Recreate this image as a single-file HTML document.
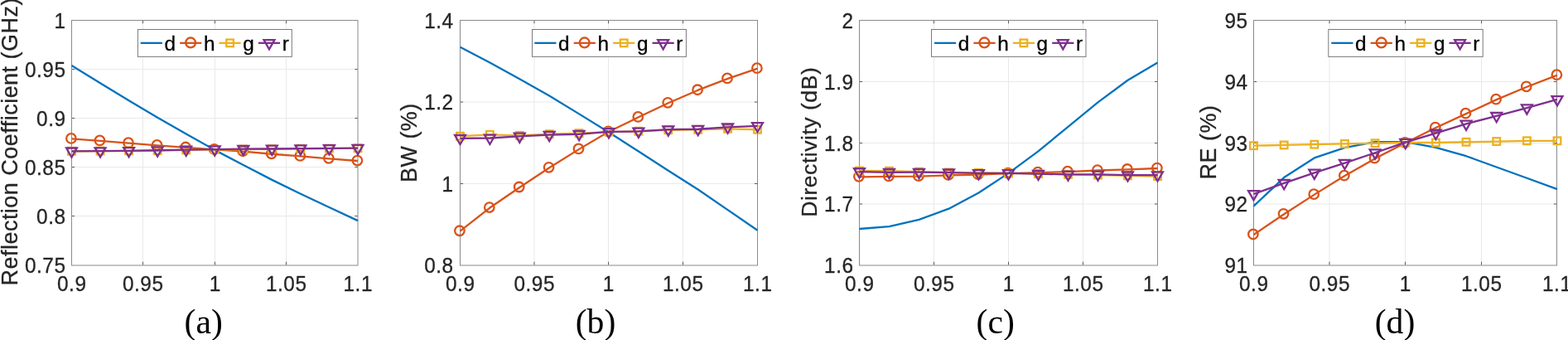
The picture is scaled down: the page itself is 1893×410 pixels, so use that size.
<!DOCTYPE html>
<html lang="en">
<head>
<meta charset="utf-8">
<title>Parametric study plots</title>
<style>
html,body{margin:0;padding:0;background:#fff;}
body{width:1893px;height:410px;overflow:hidden;}
svg{display:block;font-family:"Liberation Sans",sans-serif;}
</style>
</head>
<body>
<svg width="1893" height="410" viewBox="0 0 1893 410">
<rect width="1893" height="410" fill="#fff"/>
<g>
<path d="M172.5 24.5V320M259.5 24.5V320M345.5 24.5V320M86.5 83.5H432M86.5 142.5H432M86.5 201.5H432M86.5 260.5H432" stroke="#e9e9e9" stroke-width="1" fill="none"/>
<path d="M172.5 319.5V315.7M172.5 24.5V28.3M259.5 319.5V315.7M259.5 24.5V28.3M345.5 319.5V315.7M345.5 24.5V28.3M86.5 83.5h3.6M432 83.5h-3.6M86.5 142.5h3.6M432 142.5h-3.6M86.5 201.5h3.6M432 201.5h-3.6M86.5 260.5h3.6M432 260.5h-3.6" stroke="#5a5a5a" stroke-width="1" fill="none"/>
<rect x="86.5" y="24.5" width="345.5" height="295.5" fill="none" stroke="#8a8a8a" stroke-width="1"/>
<polyline points="86.5,79.02 121.05,100.33 155.6,121.29 190.15,141.75 224.7,161.61 259.25,180.87 293.8,198.96 328.35,216.86 362.9,233.77 397.45,249.99 432,266.11" fill="none" stroke="#0072BD" stroke-width="2.3" stroke-linejoin="round"/>
<polyline points="86.5,167.34 121.05,169.9 155.6,172.58 190.15,175.38 224.7,177.96 259.25,180.33 293.8,182.67 328.35,185.73 362.9,188.33 397.45,191.28 432,193.99" fill="none" stroke="#D95319" stroke-width="2.3" stroke-linejoin="round"/>
<circle cx="85.9" cy="166.89" r="5.75" fill="none" stroke="#D95319" stroke-width="2.3"/>
<circle cx="120.45" cy="169.45" r="5.75" fill="none" stroke="#D95319" stroke-width="2.3"/>
<circle cx="155" cy="172.13" r="5.75" fill="none" stroke="#D95319" stroke-width="2.3"/>
<circle cx="189.55" cy="174.93" r="5.75" fill="none" stroke="#D95319" stroke-width="2.3"/>
<circle cx="224.1" cy="177.51" r="5.75" fill="none" stroke="#D95319" stroke-width="2.3"/>
<circle cx="258.65" cy="179.88" r="5.75" fill="none" stroke="#D95319" stroke-width="2.3"/>
<circle cx="293.2" cy="182.22" r="5.75" fill="none" stroke="#D95319" stroke-width="2.3"/>
<circle cx="327.75" cy="185.28" r="5.75" fill="none" stroke="#D95319" stroke-width="2.3"/>
<circle cx="362.3" cy="187.88" r="5.75" fill="none" stroke="#D95319" stroke-width="2.3"/>
<circle cx="396.85" cy="190.83" r="5.75" fill="none" stroke="#D95319" stroke-width="2.3"/>
<circle cx="431.4" cy="193.54" r="5.75" fill="none" stroke="#D95319" stroke-width="2.3"/>
<polyline points="86.5,182.27 121.05,182.03 155.6,181.79 190.15,181.54 224.7,180.95 259.25,180.36 293.8,180.01 328.35,179.75 362.9,179.28 397.45,179.04 432,178.69" fill="none" stroke="#EDB120" stroke-width="2.3" stroke-linejoin="round"/>
<rect x="82.2" y="177.97" width="8.6" height="8.6" fill="none" stroke="#EDB120" stroke-width="2.3"/>
<rect x="116.75" y="177.73" width="8.6" height="8.6" fill="none" stroke="#EDB120" stroke-width="2.3"/>
<rect x="151.3" y="177.49" width="8.6" height="8.6" fill="none" stroke="#EDB120" stroke-width="2.3"/>
<rect x="185.85" y="177.24" width="8.6" height="8.6" fill="none" stroke="#EDB120" stroke-width="2.3"/>
<rect x="220.4" y="176.65" width="8.6" height="8.6" fill="none" stroke="#EDB120" stroke-width="2.3"/>
<rect x="254.95" y="176.06" width="8.6" height="8.6" fill="none" stroke="#EDB120" stroke-width="2.3"/>
<rect x="289.5" y="175.71" width="8.6" height="8.6" fill="none" stroke="#EDB120" stroke-width="2.3"/>
<rect x="324.05" y="175.45" width="8.6" height="8.6" fill="none" stroke="#EDB120" stroke-width="2.3"/>
<rect x="358.6" y="174.98" width="8.6" height="8.6" fill="none" stroke="#EDB120" stroke-width="2.3"/>
<rect x="393.15" y="174.74" width="8.6" height="8.6" fill="none" stroke="#EDB120" stroke-width="2.3"/>
<rect x="427.7" y="174.39" width="8.6" height="8.6" fill="none" stroke="#EDB120" stroke-width="2.3"/>
<polyline points="86.5,182.31 121.05,182.08 155.6,181.84 190.15,181.25 224.7,180.56 259.25,180.17 293.8,179.72 328.35,179.48 362.9,179.13 397.45,178.89 432,178.65" fill="none" stroke="#7E2F8E" stroke-width="2.3" stroke-linejoin="round"/>
<path d="M80.05 178.51H92.95L86.5 189.76Z" fill="none" stroke="#7E2F8E" stroke-width="2.3" stroke-linejoin="miter"/>
<path d="M114.6 178.28H127.5L121.05 189.53Z" fill="none" stroke="#7E2F8E" stroke-width="2.3" stroke-linejoin="miter"/>
<path d="M149.15 178.04H162.05L155.6 189.29Z" fill="none" stroke="#7E2F8E" stroke-width="2.3" stroke-linejoin="miter"/>
<path d="M183.7 177.45H196.6L190.15 188.7Z" fill="none" stroke="#7E2F8E" stroke-width="2.3" stroke-linejoin="miter"/>
<path d="M218.25 176.76H231.15L224.7 188.01Z" fill="none" stroke="#7E2F8E" stroke-width="2.3" stroke-linejoin="miter"/>
<path d="M252.8 176.37H265.7L259.25 187.62Z" fill="none" stroke="#7E2F8E" stroke-width="2.3" stroke-linejoin="miter"/>
<path d="M287.35 175.92H300.25L293.8 187.17Z" fill="none" stroke="#7E2F8E" stroke-width="2.3" stroke-linejoin="miter"/>
<path d="M321.9 175.68H334.8L328.35 186.93Z" fill="none" stroke="#7E2F8E" stroke-width="2.3" stroke-linejoin="miter"/>
<path d="M356.45 175.33H369.35L362.9 186.58Z" fill="none" stroke="#7E2F8E" stroke-width="2.3" stroke-linejoin="miter"/>
<path d="M391 175.09H403.9L397.45 186.34Z" fill="none" stroke="#7E2F8E" stroke-width="2.3" stroke-linejoin="miter"/>
<path d="M425.55 174.85H438.45L432 186.1Z" fill="none" stroke="#7E2F8E" stroke-width="2.3" stroke-linejoin="miter"/>
<rect x="166.4" y="35.5" width="185.9" height="32.9" fill="#fff" stroke="#7a7a7a" stroke-width="1"/>
<path d="M169.7 51.88h26.2" stroke="#0072BD" stroke-width="2.3" fill="none"/>

<text transform="translate(198.5 60.8) scale(1 0.99)" font-size="24.4" fill="#000" stroke="#000" stroke-width="0.3">d</text>
<path d="M217.1 51.88h26.2" stroke="#D95319" stroke-width="2.3" fill="none"/>
<circle cx="230.1" cy="51.43" r="5.9" fill="none" stroke="#D95319" stroke-width="2.4"/>
<text transform="translate(245.9 60.8) scale(1 0.99)" font-size="24.4" fill="#000" stroke="#000" stroke-width="0.3">h</text>
<path d="M264.5 51.88h26.2" stroke="#EDB120" stroke-width="2.3" fill="none"/>
<rect x="273.3" y="47.58" width="8.6" height="8.6" fill="none" stroke="#EDB120" stroke-width="2.3"/>
<text transform="translate(293.3 60.8) scale(1 0.99)" font-size="24.4" fill="#000" stroke="#000" stroke-width="0.3">g</text>
<path d="M311.9 51.88h26.2" stroke="#7E2F8E" stroke-width="2.3" fill="none"/>
<path d="M318.55 48.08H331.45L325 59.33Z" fill="none" stroke="#7E2F8E" stroke-width="2.3" stroke-linejoin="miter"/>
<text transform="translate(340.7 60.8) scale(1 0.99)" font-size="24.4" fill="#000" stroke="#000" stroke-width="0.3">r</text>
<text transform="translate(79.5 33.55) scale(1 1.055)" font-size="24.4" fill="#262626" stroke="#262626" stroke-width="0.3" letter-spacing="0.5" text-anchor="end">1</text>
<text transform="translate(79.5 92.55) scale(1 1.055)" font-size="24.4" fill="#262626" stroke="#262626" stroke-width="0.3" letter-spacing="0.5" text-anchor="end">0.95</text>
<text transform="translate(79.5 151.55) scale(1 1.055)" font-size="24.4" fill="#262626" stroke="#262626" stroke-width="0.3" letter-spacing="0.5" text-anchor="end">0.9</text>
<text transform="translate(79.5 210.55) scale(1 1.055)" font-size="24.4" fill="#262626" stroke="#262626" stroke-width="0.3" letter-spacing="0.5" text-anchor="end">0.85</text>
<text transform="translate(79.5 269.55) scale(1 1.055)" font-size="24.4" fill="#262626" stroke="#262626" stroke-width="0.3" letter-spacing="0.5" text-anchor="end">0.8</text>
<text transform="translate(79.5 328.55) scale(1 1.055)" font-size="24.4" fill="#262626" stroke="#262626" stroke-width="0.3" letter-spacing="0.5" text-anchor="end">0.75</text>
<text transform="translate(86.75 350.6) scale(1 1.055)" font-size="24.4" fill="#262626" stroke="#262626" stroke-width="0.3" letter-spacing="0.5" text-anchor="middle">0.9</text>
<text transform="translate(172.75 350.6) scale(1 1.055)" font-size="24.4" fill="#262626" stroke="#262626" stroke-width="0.3" letter-spacing="0.5" text-anchor="middle">0.95</text>
<text transform="translate(259.75 350.6) scale(1 1.055)" font-size="24.4" fill="#262626" stroke="#262626" stroke-width="0.3" letter-spacing="0.5" text-anchor="middle">1</text>
<text transform="translate(345.75 350.6) scale(1 1.055)" font-size="24.4" fill="#262626" stroke="#262626" stroke-width="0.3" letter-spacing="0.5" text-anchor="middle">1.05</text>
<text transform="translate(432.25 350.6) scale(1 1.055)" font-size="24.4" fill="#262626" stroke="#262626" stroke-width="0.3" letter-spacing="0.5" text-anchor="middle">1.1</text>
<text transform="translate(20.5 170.8) rotate(-90)" font-size="26.95" fill="#262626" stroke="#262626" stroke-width="0.3" letter-spacing="0.5" text-anchor="middle">Reflection Coefficient (GHz)</text>
<text x="245.7" y="402.1" font-size="41.7" fill="#000" text-anchor="middle" font-family="'Liberation Serif', serif">(a)</text>
</g>
<g>
<path d="M645 24.5V320M734.5 24.5V320M824.5 24.5V320M555.5 123H914.5M555.5 221.5H914.5" stroke="#e9e9e9" stroke-width="1" fill="none"/>
<path d="M645 319.5V315.7M645 24.5V28.3M734.5 319.5V315.7M734.5 24.5V28.3M824.5 319.5V315.7M824.5 24.5V28.3M555.5 123h3.6M914.5 123h-3.6M555.5 221.5h3.6M914.5 221.5h-3.6" stroke="#5a5a5a" stroke-width="1" fill="none"/>
<rect x="555.5" y="24.5" width="359" height="295.5" fill="none" stroke="#8a8a8a" stroke-width="1"/>
<polyline points="555.5,56.69 591.4,75.53 627.3,95.29 663.2,115.45 699.1,137.39 735,159.53 770.9,182.53 806.8,205.73 842.7,228.54 878.6,253.12 914.5,277.71" fill="none" stroke="#0072BD" stroke-width="2.3" stroke-linejoin="round"/>
<polyline points="555.5,278.71 591.4,250.53 627.3,225.95 663.2,202.3 699.1,179.88 735,158.73 770.9,141.32 806.8,124.32 842.7,108.68 878.6,94.92 914.5,82.62" fill="none" stroke="#D95319" stroke-width="2.3" stroke-linejoin="round"/>
<circle cx="554.9" cy="278.26" r="5.75" fill="none" stroke="#D95319" stroke-width="2.3"/>
<circle cx="590.8" cy="250.08" r="5.75" fill="none" stroke="#D95319" stroke-width="2.3"/>
<circle cx="626.7" cy="225.5" r="5.75" fill="none" stroke="#D95319" stroke-width="2.3"/>
<circle cx="662.6" cy="201.85" r="5.75" fill="none" stroke="#D95319" stroke-width="2.3"/>
<circle cx="698.5" cy="179.43" r="5.75" fill="none" stroke="#D95319" stroke-width="2.3"/>
<circle cx="734.4" cy="158.28" r="5.75" fill="none" stroke="#D95319" stroke-width="2.3"/>
<circle cx="770.3" cy="140.88" r="5.75" fill="none" stroke="#D95319" stroke-width="2.3"/>
<circle cx="806.2" cy="123.87" r="5.75" fill="none" stroke="#D95319" stroke-width="2.3"/>
<circle cx="842.1" cy="108.23" r="5.75" fill="none" stroke="#D95319" stroke-width="2.3"/>
<circle cx="878" cy="94.47" r="5.75" fill="none" stroke="#D95319" stroke-width="2.3"/>
<circle cx="913.9" cy="82.17" r="5.75" fill="none" stroke="#D95319" stroke-width="2.3"/>
<polyline points="555.5,164.19 591.4,162.39 627.3,163.36 663.2,161.68 699.1,160.7 735,159.03 770.9,158.24 806.8,156.76 842.7,156.27 878.6,155.28 914.5,156.27" fill="none" stroke="#EDB120" stroke-width="2.3" stroke-linejoin="round"/>
<rect x="551.2" y="159.89" width="8.6" height="8.6" fill="none" stroke="#EDB120" stroke-width="2.3"/>
<rect x="587.1" y="158.09" width="8.6" height="8.6" fill="none" stroke="#EDB120" stroke-width="2.3"/>
<rect x="623" y="159.06" width="8.6" height="8.6" fill="none" stroke="#EDB120" stroke-width="2.3"/>
<rect x="658.9" y="157.38" width="8.6" height="8.6" fill="none" stroke="#EDB120" stroke-width="2.3"/>
<rect x="694.8" y="156.4" width="8.6" height="8.6" fill="none" stroke="#EDB120" stroke-width="2.3"/>
<rect x="730.7" y="154.73" width="8.6" height="8.6" fill="none" stroke="#EDB120" stroke-width="2.3"/>
<rect x="766.6" y="153.94" width="8.6" height="8.6" fill="none" stroke="#EDB120" stroke-width="2.3"/>
<rect x="802.5" y="152.46" width="8.6" height="8.6" fill="none" stroke="#EDB120" stroke-width="2.3"/>
<rect x="838.4" y="151.97" width="8.6" height="8.6" fill="none" stroke="#EDB120" stroke-width="2.3"/>
<rect x="874.3" y="150.98" width="8.6" height="8.6" fill="none" stroke="#EDB120" stroke-width="2.3"/>
<rect x="910.2" y="151.97" width="8.6" height="8.6" fill="none" stroke="#EDB120" stroke-width="2.3"/>
<polyline points="555.5,166.8 591.4,166.5 627.3,164.43 663.2,162.66 699.1,161.78 735,158.94 770.9,158.43 806.8,156.16 842.7,155.77 878.6,153.32 914.5,151.84" fill="none" stroke="#7E2F8E" stroke-width="2.3" stroke-linejoin="round"/>
<path d="M549.05 163H561.95L555.5 174.25Z" fill="none" stroke="#7E2F8E" stroke-width="2.3" stroke-linejoin="miter"/>
<path d="M584.95 162.7H597.85L591.4 173.95Z" fill="none" stroke="#7E2F8E" stroke-width="2.3" stroke-linejoin="miter"/>
<path d="M620.85 160.63H633.75L627.3 171.88Z" fill="none" stroke="#7E2F8E" stroke-width="2.3" stroke-linejoin="miter"/>
<path d="M656.75 158.86H669.65L663.2 170.11Z" fill="none" stroke="#7E2F8E" stroke-width="2.3" stroke-linejoin="miter"/>
<path d="M692.65 157.98H705.55L699.1 169.23Z" fill="none" stroke="#7E2F8E" stroke-width="2.3" stroke-linejoin="miter"/>
<path d="M728.55 155.14H741.45L735 166.39Z" fill="none" stroke="#7E2F8E" stroke-width="2.3" stroke-linejoin="miter"/>
<path d="M764.45 154.63H777.35L770.9 165.88Z" fill="none" stroke="#7E2F8E" stroke-width="2.3" stroke-linejoin="miter"/>
<path d="M800.35 152.36H813.25L806.8 163.61Z" fill="none" stroke="#7E2F8E" stroke-width="2.3" stroke-linejoin="miter"/>
<path d="M836.25 151.97H849.15L842.7 163.22Z" fill="none" stroke="#7E2F8E" stroke-width="2.3" stroke-linejoin="miter"/>
<path d="M872.15 149.52H885.05L878.6 160.77Z" fill="none" stroke="#7E2F8E" stroke-width="2.3" stroke-linejoin="miter"/>
<path d="M908.05 148.04H920.95L914.5 159.29Z" fill="none" stroke="#7E2F8E" stroke-width="2.3" stroke-linejoin="miter"/>
<rect x="642.5" y="35.5" width="185.9" height="32.9" fill="#fff" stroke="#7a7a7a" stroke-width="1"/>
<path d="M645.3 51.88h26.2" stroke="#0072BD" stroke-width="2.3" fill="none"/>

<text transform="translate(674.1 60.8) scale(1 0.99)" font-size="24.4" fill="#000" stroke="#000" stroke-width="0.3">d</text>
<path d="M692.7 51.88h26.2" stroke="#D95319" stroke-width="2.3" fill="none"/>
<circle cx="705.7" cy="51.43" r="5.9" fill="none" stroke="#D95319" stroke-width="2.4"/>
<text transform="translate(721.5 60.8) scale(1 0.99)" font-size="24.4" fill="#000" stroke="#000" stroke-width="0.3">h</text>
<path d="M740.1 51.88h26.2" stroke="#EDB120" stroke-width="2.3" fill="none"/>
<rect x="748.9" y="47.58" width="8.6" height="8.6" fill="none" stroke="#EDB120" stroke-width="2.3"/>
<text transform="translate(768.9 60.8) scale(1 0.99)" font-size="24.4" fill="#000" stroke="#000" stroke-width="0.3">g</text>
<path d="M787.5 51.88h26.2" stroke="#7E2F8E" stroke-width="2.3" fill="none"/>
<path d="M794.15 48.08H807.05L800.6 59.33Z" fill="none" stroke="#7E2F8E" stroke-width="2.3" stroke-linejoin="miter"/>
<text transform="translate(816.3 60.8) scale(1 0.99)" font-size="24.4" fill="#000" stroke="#000" stroke-width="0.3">r</text>
<text transform="translate(547.6 33.55) scale(1 1.055)" font-size="24.4" fill="#262626" stroke="#262626" stroke-width="0.3" letter-spacing="0.5" text-anchor="end">1.4</text>
<text transform="translate(547.6 132.05) scale(1 1.055)" font-size="24.4" fill="#262626" stroke="#262626" stroke-width="0.3" letter-spacing="0.5" text-anchor="end">1.2</text>
<text transform="translate(547.6 230.55) scale(1 1.055)" font-size="24.4" fill="#262626" stroke="#262626" stroke-width="0.3" letter-spacing="0.5" text-anchor="end">1</text>
<text transform="translate(547.6 328.55) scale(1 1.055)" font-size="24.4" fill="#262626" stroke="#262626" stroke-width="0.3" letter-spacing="0.5" text-anchor="end">0.8</text>
<text transform="translate(555.75 350.6) scale(1 1.055)" font-size="24.4" fill="#262626" stroke="#262626" stroke-width="0.3" letter-spacing="0.5" text-anchor="middle">0.9</text>
<text transform="translate(645.25 350.6) scale(1 1.055)" font-size="24.4" fill="#262626" stroke="#262626" stroke-width="0.3" letter-spacing="0.5" text-anchor="middle">0.95</text>
<text transform="translate(734.75 350.6) scale(1 1.055)" font-size="24.4" fill="#262626" stroke="#262626" stroke-width="0.3" letter-spacing="0.5" text-anchor="middle">1</text>
<text transform="translate(824.75 350.6) scale(1 1.055)" font-size="24.4" fill="#262626" stroke="#262626" stroke-width="0.3" letter-spacing="0.5" text-anchor="middle">1.05</text>
<text transform="translate(914.75 350.6) scale(1 1.055)" font-size="24.4" fill="#262626" stroke="#262626" stroke-width="0.3" letter-spacing="0.5" text-anchor="middle">1.1</text>
<text transform="translate(503.2 172.1) rotate(-90)" font-size="26.95" fill="#262626" stroke="#262626" stroke-width="0.3" letter-spacing="0.5" text-anchor="middle">BW (%)</text>
<text x="719" y="402.1" font-size="41.7" fill="#000" text-anchor="middle" font-family="'Liberation Serif', serif">(b)</text>
</g>
<g>
<path d="M1127.5 24.5V320M1217.5 24.5V320M1307.5 24.5V320M1037.5 98.5H1397.5M1037.5 172.5H1397.5M1037.5 246H1397.5" stroke="#e9e9e9" stroke-width="1" fill="none"/>
<path d="M1127.5 319.5V315.7M1127.5 24.5V28.3M1217.5 319.5V315.7M1217.5 24.5V28.3M1307.5 319.5V315.7M1307.5 24.5V28.3M1037.5 98.5h3.6M1397.5 98.5h-3.6M1037.5 172.5h3.6M1397.5 172.5h-3.6M1037.5 246h3.6M1397.5 246h-3.6" stroke="#5a5a5a" stroke-width="1" fill="none"/>
<rect x="1037.5" y="24.5" width="360" height="295.5" fill="none" stroke="#8a8a8a" stroke-width="1"/>
<polyline points="1037.5,275.99 1073.5,273.04 1109.5,264.93 1145.5,251.65 1181.5,232.48 1217.5,208.88 1253.5,182.33 1289.5,152.82 1325.5,123.32 1361.5,96.78 1397.5,75.39" fill="none" stroke="#0072BD" stroke-width="2.3" stroke-linejoin="round"/>
<polyline points="1037.5,213.3 1073.5,212.86 1109.5,212.63 1145.5,211.35 1181.5,210.61 1217.5,209.18 1253.5,208.1 1289.5,207.16 1325.5,205.49 1361.5,204.45 1397.5,202.98" fill="none" stroke="#D95319" stroke-width="2.3" stroke-linejoin="round"/>
<circle cx="1036.9" cy="212.85" r="5.75" fill="none" stroke="#D95319" stroke-width="2.3"/>
<circle cx="1072.9" cy="212.41" r="5.75" fill="none" stroke="#D95319" stroke-width="2.3"/>
<circle cx="1108.9" cy="212.18" r="5.75" fill="none" stroke="#D95319" stroke-width="2.3"/>
<circle cx="1144.9" cy="210.9" r="5.75" fill="none" stroke="#D95319" stroke-width="2.3"/>
<circle cx="1180.9" cy="210.16" r="5.75" fill="none" stroke="#D95319" stroke-width="2.3"/>
<circle cx="1216.9" cy="208.73" r="5.75" fill="none" stroke="#D95319" stroke-width="2.3"/>
<circle cx="1252.9" cy="207.65" r="5.75" fill="none" stroke="#D95319" stroke-width="2.3"/>
<circle cx="1288.9" cy="206.71" r="5.75" fill="none" stroke="#D95319" stroke-width="2.3"/>
<circle cx="1324.9" cy="205.04" r="5.75" fill="none" stroke="#D95319" stroke-width="2.3"/>
<circle cx="1360.9" cy="204" r="5.75" fill="none" stroke="#D95319" stroke-width="2.3"/>
<circle cx="1396.9" cy="202.53" r="5.75" fill="none" stroke="#D95319" stroke-width="2.3"/>
<polyline points="1037.5,205.94 1073.5,206.14 1109.5,207.18 1145.5,207.88 1181.5,208.28 1217.5,208.88 1253.5,209.61 1289.5,210.35 1325.5,211.09 1361.5,211.83 1397.5,212.56" fill="none" stroke="#EDB120" stroke-width="2.3" stroke-linejoin="round"/>
<rect x="1033.2" y="201.64" width="8.6" height="8.6" fill="none" stroke="#EDB120" stroke-width="2.3"/>
<rect x="1069.2" y="201.84" width="8.6" height="8.6" fill="none" stroke="#EDB120" stroke-width="2.3"/>
<rect x="1105.2" y="202.88" width="8.6" height="8.6" fill="none" stroke="#EDB120" stroke-width="2.3"/>
<rect x="1141.2" y="203.58" width="8.6" height="8.6" fill="none" stroke="#EDB120" stroke-width="2.3"/>
<rect x="1177.2" y="203.98" width="8.6" height="8.6" fill="none" stroke="#EDB120" stroke-width="2.3"/>
<rect x="1213.2" y="204.58" width="8.6" height="8.6" fill="none" stroke="#EDB120" stroke-width="2.3"/>
<rect x="1249.2" y="205.31" width="8.6" height="8.6" fill="none" stroke="#EDB120" stroke-width="2.3"/>
<rect x="1285.2" y="206.05" width="8.6" height="8.6" fill="none" stroke="#EDB120" stroke-width="2.3"/>
<rect x="1321.2" y="206.79" width="8.6" height="8.6" fill="none" stroke="#EDB120" stroke-width="2.3"/>
<rect x="1357.2" y="207.53" width="8.6" height="8.6" fill="none" stroke="#EDB120" stroke-width="2.3"/>
<rect x="1393.2" y="208.26" width="8.6" height="8.6" fill="none" stroke="#EDB120" stroke-width="2.3"/>
<polyline points="1037.5,207.06 1073.5,207.8 1109.5,207.7 1145.5,208.14 1181.5,208.88 1217.5,208.88 1253.5,209.61 1289.5,210.35 1325.5,210.35 1361.5,211.09 1397.5,211.09" fill="none" stroke="#7E2F8E" stroke-width="2.3" stroke-linejoin="round"/>
<path d="M1031.05 203.26H1043.95L1037.5 214.51Z" fill="none" stroke="#7E2F8E" stroke-width="2.3" stroke-linejoin="miter"/>
<path d="M1067.05 204H1079.95L1073.5 215.25Z" fill="none" stroke="#7E2F8E" stroke-width="2.3" stroke-linejoin="miter"/>
<path d="M1103.05 203.9H1115.95L1109.5 215.15Z" fill="none" stroke="#7E2F8E" stroke-width="2.3" stroke-linejoin="miter"/>
<path d="M1139.05 204.34H1151.95L1145.5 215.59Z" fill="none" stroke="#7E2F8E" stroke-width="2.3" stroke-linejoin="miter"/>
<path d="M1175.05 205.08H1187.95L1181.5 216.33Z" fill="none" stroke="#7E2F8E" stroke-width="2.3" stroke-linejoin="miter"/>
<path d="M1211.05 205.08H1223.95L1217.5 216.33Z" fill="none" stroke="#7E2F8E" stroke-width="2.3" stroke-linejoin="miter"/>
<path d="M1247.05 205.81H1259.95L1253.5 217.06Z" fill="none" stroke="#7E2F8E" stroke-width="2.3" stroke-linejoin="miter"/>
<path d="M1283.05 206.55H1295.95L1289.5 217.8Z" fill="none" stroke="#7E2F8E" stroke-width="2.3" stroke-linejoin="miter"/>
<path d="M1319.05 206.55H1331.95L1325.5 217.8Z" fill="none" stroke="#7E2F8E" stroke-width="2.3" stroke-linejoin="miter"/>
<path d="M1355.05 207.29H1367.95L1361.5 218.54Z" fill="none" stroke="#7E2F8E" stroke-width="2.3" stroke-linejoin="miter"/>
<path d="M1391.05 207.29H1403.95L1397.5 218.54Z" fill="none" stroke="#7E2F8E" stroke-width="2.3" stroke-linejoin="miter"/>
<rect x="1124.5" y="35.5" width="186.5" height="32.9" fill="#fff" stroke="#7a7a7a" stroke-width="1"/>
<path d="M1128 51.88h26.2" stroke="#0072BD" stroke-width="2.3" fill="none"/>

<text transform="translate(1156.8 60.8) scale(1 0.99)" font-size="24.4" fill="#000" stroke="#000" stroke-width="0.3">d</text>
<path d="M1175.4 51.88h26.2" stroke="#D95319" stroke-width="2.3" fill="none"/>
<circle cx="1188.4" cy="51.43" r="5.9" fill="none" stroke="#D95319" stroke-width="2.4"/>
<text transform="translate(1204.2 60.8) scale(1 0.99)" font-size="24.4" fill="#000" stroke="#000" stroke-width="0.3">h</text>
<path d="M1222.8 51.88h26.2" stroke="#EDB120" stroke-width="2.3" fill="none"/>
<rect x="1231.6" y="47.58" width="8.6" height="8.6" fill="none" stroke="#EDB120" stroke-width="2.3"/>
<text transform="translate(1251.6 60.8) scale(1 0.99)" font-size="24.4" fill="#000" stroke="#000" stroke-width="0.3">g</text>
<path d="M1270.2 51.88h26.2" stroke="#7E2F8E" stroke-width="2.3" fill="none"/>
<path d="M1276.85 48.08H1289.75L1283.3 59.33Z" fill="none" stroke="#7E2F8E" stroke-width="2.3" stroke-linejoin="miter"/>
<text transform="translate(1299 60.8) scale(1 0.99)" font-size="24.4" fill="#000" stroke="#000" stroke-width="0.3">r</text>
<text transform="translate(1030.5 33.55) scale(1 1.055)" font-size="24.4" fill="#262626" stroke="#262626" stroke-width="0.3" letter-spacing="0.5" text-anchor="end">2</text>
<text transform="translate(1030.5 107.55) scale(1 1.055)" font-size="24.4" fill="#262626" stroke="#262626" stroke-width="0.3" letter-spacing="0.5" text-anchor="end">1.9</text>
<text transform="translate(1030.5 181.55) scale(1 1.055)" font-size="24.4" fill="#262626" stroke="#262626" stroke-width="0.3" letter-spacing="0.5" text-anchor="end">1.8</text>
<text transform="translate(1030.5 255.05) scale(1 1.055)" font-size="24.4" fill="#262626" stroke="#262626" stroke-width="0.3" letter-spacing="0.5" text-anchor="end">1.7</text>
<text transform="translate(1030.5 328.55) scale(1 1.055)" font-size="24.4" fill="#262626" stroke="#262626" stroke-width="0.3" letter-spacing="0.5" text-anchor="end">1.6</text>
<text transform="translate(1037.75 350.6) scale(1 1.055)" font-size="24.4" fill="#262626" stroke="#262626" stroke-width="0.3" letter-spacing="0.5" text-anchor="middle">0.9</text>
<text transform="translate(1127.75 350.6) scale(1 1.055)" font-size="24.4" fill="#262626" stroke="#262626" stroke-width="0.3" letter-spacing="0.5" text-anchor="middle">0.95</text>
<text transform="translate(1217.75 350.6) scale(1 1.055)" font-size="24.4" fill="#262626" stroke="#262626" stroke-width="0.3" letter-spacing="0.5" text-anchor="middle">1</text>
<text transform="translate(1307.75 350.6) scale(1 1.055)" font-size="24.4" fill="#262626" stroke="#262626" stroke-width="0.3" letter-spacing="0.5" text-anchor="middle">1.05</text>
<text transform="translate(1397.75 350.6) scale(1 1.055)" font-size="24.4" fill="#262626" stroke="#262626" stroke-width="0.3" letter-spacing="0.5" text-anchor="middle">1.1</text>
<text transform="translate(986.1 171.2) rotate(-90)" font-size="26.6" fill="#262626" stroke="#262626" stroke-width="0.3" letter-spacing="0.5" text-anchor="middle">Directivity (dB)</text>
<text x="1201.7" y="402.1" font-size="41.7" fill="#000" text-anchor="middle" font-family="'Liberation Serif', serif">(c)</text>
</g>
<g>
<path d="M1605 24.5V320M1696.5 24.5V320M1788.5 24.5V320M1513.5 98.5H1879.5M1513.5 172.5H1879.5M1513.5 246H1879.5" stroke="#e9e9e9" stroke-width="1" fill="none"/>
<path d="M1605 319.5V315.7M1605 24.5V28.3M1696.5 319.5V315.7M1696.5 24.5V28.3M1788.5 319.5V315.7M1788.5 24.5V28.3M1513.5 98.5h3.6M1879.5 98.5h-3.6M1513.5 172.5h3.6M1879.5 172.5h-3.6M1513.5 246h3.6M1879.5 246h-3.6" stroke="#5a5a5a" stroke-width="1" fill="none"/>
<rect x="1513.5" y="24.5" width="366" height="295.5" fill="none" stroke="#8a8a8a" stroke-width="1"/>
<polyline points="1513.5,248.56 1550.15,214.04 1586.8,190.44 1623.45,178.2 1660.1,171.2 1696.75,171.2 1733.4,177.9 1770.05,188.22 1806.7,201.5 1843.35,214.77 1880,228.05" fill="none" stroke="#0072BD" stroke-width="2.3" stroke-linejoin="round"/>
<polyline points="1513.5,282.93 1550.15,258.25 1586.8,234.65 1623.45,212.09 1660.1,191.14 1696.75,172.3 1733.4,154.06 1770.05,137.1 1806.7,120.14 1843.35,104.75 1880,90.64" fill="none" stroke="#D95319" stroke-width="2.3" stroke-linejoin="round"/>
<circle cx="1512.9" cy="282.48" r="5.75" fill="none" stroke="#D95319" stroke-width="2.3"/>
<circle cx="1549.55" cy="257.8" r="5.75" fill="none" stroke="#D95319" stroke-width="2.3"/>
<circle cx="1586.2" cy="234.2" r="5.75" fill="none" stroke="#D95319" stroke-width="2.3"/>
<circle cx="1622.85" cy="211.64" r="5.75" fill="none" stroke="#D95319" stroke-width="2.3"/>
<circle cx="1659.5" cy="190.69" r="5.75" fill="none" stroke="#D95319" stroke-width="2.3"/>
<circle cx="1696.15" cy="171.85" r="5.75" fill="none" stroke="#D95319" stroke-width="2.3"/>
<circle cx="1732.8" cy="153.61" r="5.75" fill="none" stroke="#D95319" stroke-width="2.3"/>
<circle cx="1769.45" cy="136.65" r="5.75" fill="none" stroke="#D95319" stroke-width="2.3"/>
<circle cx="1806.1" cy="119.69" r="5.75" fill="none" stroke="#D95319" stroke-width="2.3"/>
<circle cx="1842.75" cy="104.3" r="5.75" fill="none" stroke="#D95319" stroke-width="2.3"/>
<circle cx="1879.4" cy="90.19" r="5.75" fill="none" stroke="#D95319" stroke-width="2.3"/>
<polyline points="1513.5,175.69 1550.15,174.95 1586.8,174.21 1623.45,173.47 1660.1,172.74 1696.75,172 1733.4,172 1770.05,171.26 1806.7,170.53 1843.35,169.79 1880,169.79" fill="none" stroke="#EDB120" stroke-width="2.3" stroke-linejoin="round"/>
<rect x="1509.2" y="171.39" width="8.6" height="8.6" fill="none" stroke="#EDB120" stroke-width="2.3"/>
<rect x="1545.85" y="170.65" width="8.6" height="8.6" fill="none" stroke="#EDB120" stroke-width="2.3"/>
<rect x="1582.5" y="169.91" width="8.6" height="8.6" fill="none" stroke="#EDB120" stroke-width="2.3"/>
<rect x="1619.15" y="169.17" width="8.6" height="8.6" fill="none" stroke="#EDB120" stroke-width="2.3"/>
<rect x="1655.8" y="168.44" width="8.6" height="8.6" fill="none" stroke="#EDB120" stroke-width="2.3"/>
<rect x="1692.45" y="167.7" width="8.6" height="8.6" fill="none" stroke="#EDB120" stroke-width="2.3"/>
<rect x="1729.1" y="167.7" width="8.6" height="8.6" fill="none" stroke="#EDB120" stroke-width="2.3"/>
<rect x="1765.75" y="166.96" width="8.6" height="8.6" fill="none" stroke="#EDB120" stroke-width="2.3"/>
<rect x="1802.4" y="166.23" width="8.6" height="8.6" fill="none" stroke="#EDB120" stroke-width="2.3"/>
<rect x="1839.05" y="165.49" width="8.6" height="8.6" fill="none" stroke="#EDB120" stroke-width="2.3"/>
<rect x="1875.7" y="165.49" width="8.6" height="8.6" fill="none" stroke="#EDB120" stroke-width="2.3"/>
<polyline points="1513.5,233.99 1550.15,220.81 1586.8,208.38 1623.45,196.58 1660.1,184.24 1696.75,171.7 1733.4,160.54 1770.05,149.38 1806.7,139.79 1843.35,130.2 1880,119.87" fill="none" stroke="#7E2F8E" stroke-width="2.3" stroke-linejoin="round"/>
<path d="M1507.05 230.19H1519.95L1513.5 241.44Z" fill="none" stroke="#7E2F8E" stroke-width="2.3" stroke-linejoin="miter"/>
<path d="M1543.7 217.01H1556.6L1550.15 228.26Z" fill="none" stroke="#7E2F8E" stroke-width="2.3" stroke-linejoin="miter"/>
<path d="M1580.35 204.57H1593.25L1586.8 215.82Z" fill="none" stroke="#7E2F8E" stroke-width="2.3" stroke-linejoin="miter"/>
<path d="M1617 192.78H1629.9L1623.45 204.03Z" fill="none" stroke="#7E2F8E" stroke-width="2.3" stroke-linejoin="miter"/>
<path d="M1653.65 180.44H1666.55L1660.1 191.69Z" fill="none" stroke="#7E2F8E" stroke-width="2.3" stroke-linejoin="miter"/>
<path d="M1690.3 167.9H1703.2L1696.75 179.15Z" fill="none" stroke="#7E2F8E" stroke-width="2.3" stroke-linejoin="miter"/>
<path d="M1726.95 156.74H1739.85L1733.4 167.99Z" fill="none" stroke="#7E2F8E" stroke-width="2.3" stroke-linejoin="miter"/>
<path d="M1763.6 145.58H1776.5L1770.05 156.83Z" fill="none" stroke="#7E2F8E" stroke-width="2.3" stroke-linejoin="miter"/>
<path d="M1800.25 135.99H1813.15L1806.7 147.24Z" fill="none" stroke="#7E2F8E" stroke-width="2.3" stroke-linejoin="miter"/>
<path d="M1836.9 126.4H1849.8L1843.35 137.65Z" fill="none" stroke="#7E2F8E" stroke-width="2.3" stroke-linejoin="miter"/>
<path d="M1873.55 116.07H1886.45L1880 127.32Z" fill="none" stroke="#7E2F8E" stroke-width="2.3" stroke-linejoin="miter"/>
<rect x="1603.8" y="35.5" width="186.4" height="32.9" fill="#fff" stroke="#7a7a7a" stroke-width="1"/>
<path d="M1607.3 51.88h26.2" stroke="#0072BD" stroke-width="2.3" fill="none"/>

<text transform="translate(1636.1 60.8) scale(1 0.99)" font-size="24.4" fill="#000" stroke="#000" stroke-width="0.3">d</text>
<path d="M1654.7 51.88h26.2" stroke="#D95319" stroke-width="2.3" fill="none"/>
<circle cx="1667.7" cy="51.43" r="5.9" fill="none" stroke="#D95319" stroke-width="2.4"/>
<text transform="translate(1683.5 60.8) scale(1 0.99)" font-size="24.4" fill="#000" stroke="#000" stroke-width="0.3">h</text>
<path d="M1702.1 51.88h26.2" stroke="#EDB120" stroke-width="2.3" fill="none"/>
<rect x="1710.9" y="47.58" width="8.6" height="8.6" fill="none" stroke="#EDB120" stroke-width="2.3"/>
<text transform="translate(1730.9 60.8) scale(1 0.99)" font-size="24.4" fill="#000" stroke="#000" stroke-width="0.3">g</text>
<path d="M1749.5 51.88h26.2" stroke="#7E2F8E" stroke-width="2.3" fill="none"/>
<path d="M1756.15 48.08H1769.05L1762.6 59.33Z" fill="none" stroke="#7E2F8E" stroke-width="2.3" stroke-linejoin="miter"/>
<text transform="translate(1778.3 60.8) scale(1 0.99)" font-size="24.4" fill="#000" stroke="#000" stroke-width="0.3">r</text>
<text transform="translate(1506.5 33.55) scale(1 1.055)" font-size="24.4" fill="#262626" stroke="#262626" stroke-width="0.3" letter-spacing="0.5" text-anchor="end">95</text>
<text transform="translate(1506.5 107.55) scale(1 1.055)" font-size="24.4" fill="#262626" stroke="#262626" stroke-width="0.3" letter-spacing="0.5" text-anchor="end">94</text>
<text transform="translate(1506.5 181.55) scale(1 1.055)" font-size="24.4" fill="#262626" stroke="#262626" stroke-width="0.3" letter-spacing="0.5" text-anchor="end">93</text>
<text transform="translate(1506.5 255.05) scale(1 1.055)" font-size="24.4" fill="#262626" stroke="#262626" stroke-width="0.3" letter-spacing="0.5" text-anchor="end">92</text>
<text transform="translate(1506.5 328.55) scale(1 1.055)" font-size="24.4" fill="#262626" stroke="#262626" stroke-width="0.3" letter-spacing="0.5" text-anchor="end">91</text>
<text transform="translate(1513.75 350.6) scale(1 1.055)" font-size="24.4" fill="#262626" stroke="#262626" stroke-width="0.3" letter-spacing="0.5" text-anchor="middle">0.9</text>
<text transform="translate(1605.25 350.6) scale(1 1.055)" font-size="24.4" fill="#262626" stroke="#262626" stroke-width="0.3" letter-spacing="0.5" text-anchor="middle">0.95</text>
<text transform="translate(1696.75 350.6) scale(1 1.055)" font-size="24.4" fill="#262626" stroke="#262626" stroke-width="0.3" letter-spacing="0.5" text-anchor="middle">1</text>
<text transform="translate(1788.75 350.6) scale(1 1.055)" font-size="24.4" fill="#262626" stroke="#262626" stroke-width="0.3" letter-spacing="0.5" text-anchor="middle">1.05</text>
<text transform="translate(1879.75 350.6) scale(1 1.055)" font-size="24.4" fill="#262626" stroke="#262626" stroke-width="0.3" letter-spacing="0.5" text-anchor="middle">1.1</text>
<text transform="translate(1468 171.5) rotate(-90)" font-size="26.95" fill="#262626" stroke="#262626" stroke-width="0.3" letter-spacing="0.5" text-anchor="middle">RE (%)</text>
<text x="1684" y="402.1" font-size="41.7" fill="#000" text-anchor="middle" font-family="'Liberation Serif', serif">(d)</text>
</g>
</svg>
</body>
</html>
